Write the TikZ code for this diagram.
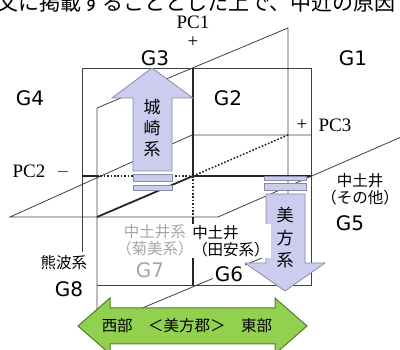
\documentclass[tikz,border=0pt]{standalone}
\usepackage{fontspec}
\newfontfamily\jp{Noto Sans CJK JP}
\newfontfamily\gf{DejaVu Sans}
\newfontfamily\pcf{Liberation Serif}
\definecolor{lav}{HTML}{CCCCEE}
\definecolor{lavb}{HTML}{8A8AA6}
\definecolor{grn}{HTML}{92D050}
\definecolor{grnb}{HTML}{4F7F2F}
\definecolor{lgray}{HTML}{A6A6A6}
\begin{document}
\begin{tikzpicture}[x=1pt,y=-1pt,
  thinln/.style={draw=black!75, line width=0.8pt},
  boldln/.style={draw=black!85, line width=1.8pt},
  dotln/.style={draw=black!85, line width=1.6pt, dash pattern=on 1.6pt off 1.8pt},
  glbl/.style={font=\gf\fontsize{20}{24}\selectfont, inner sep=2pt, fill=white},
  jlbl/.style={font=\jp\fontsize{15.5}{17.5}\selectfont, inner sep=1pt},
  pcl/.style={font=\pcf\fontsize{19}{22}\selectfont, inner sep=1pt},
  lavshape/.style={fill=lav, draw=lavb, line width=0.8pt}
]
\useasboundingbox (0,0) rectangle (400,350);

% cut-off text line at the top
\node[anchor=base west, font=\jp\fontsize{21}{24}\selectfont, inner sep=0] (toptext) at (-3,11) {文に掲載することとした上で、中近の原因};

% coordinates of the planes
\coordinate (rA) at (82,252);
\coordinate (rB) at (82,68);
\coordinate (rC) at (311,68);
\coordinate (rD) at (311,285);
\coordinate (rE) at (97,285);
\coordinate (vA) at (97,327);
\coordinate (vB) at (97,108);
\coordinate (vC) at (288,28);
\coordinate (vD) at (288,247);
\coordinate (hA) at (10,217);
\coordinate (hB) at (218,217);
\coordinate (hC) at (408,134);
\coordinate (hD) at (192,135);
\coordinate (hE) at (311,135);
\coordinate (o) at (193,176);

% thin plane outlines
\draw[thinln] (rA) -- (rB) -- (rC) -- (rD) -- (rE);
\draw[thinln] (vA) -- (vB) -- (vC) -- (vD) -- cycle;
\draw[thinln] (hC) -- (hB) -- (hA) -- (hD) -- (hE);

% axes
\draw[boldln] (193,68) -- (o);
\draw[dotln] (o) -- (193,217);
\draw[boldln] (193,217) -- (193,285);
\draw[boldln] (82,176) -- (97,176);
\draw[dotln] (97,176) -- (o);
\draw[boldln] (o) -- (311,176);
\draw[boldln] (97,217) -- (o);
\draw[dotln] (o) -- (288,135);

% Kinosaki arrow (up)
\draw[lavshape] (133,171) -- (133,98) -- (112,98) -- (152,68) -- (193,98) -- (172,98) -- (172,171) -- cycle;
\draw[lavshape] (133,174) rectangle (172,181);
\draw[lavshape] (133,185) rectangle (172,190);
\node[font=\jp\fontsize{17}{21}\selectfont, align=center, inner sep=0] (kino) at (152,128) {城\\崎\\系};

% Mikata arrow (down)
\draw[lavshape] (264,176) rectangle (306,180);
\draw[lavshape] (264,183) rectangle (306,190);
\draw[lavshape] (266,194) -- (305,194) -- (305,263) -- (325,263) -- (285,291) -- (245,263) -- (266,263) -- cycle;
\node[font=\jp\fontsize{17}{22.5}\selectfont, align=center, inner sep=0] (mika) at (285,238) {美\\方\\系};

% green double arrow
\draw[fill=grn, draw=grnb, line width=1pt] (78,326) -- (110,298) -- (110,308) -- (275,308) -- (275,298) -- (307,326) -- (275,354) -- (275,344) -- (110,344) -- (110,354) -- cycle;
\node[font=\jp\fontsize{15.5}{18}\selectfont, inner sep=0] (gun) at (187,326) {西部　＜美方郡＞　東部};

% labels
\node[glbl] (g1) at (353,58) {G1};
\node[glbl] (g2) at (228,98) {G2};
\node[glbl] (g3) at (155,58) {G3};
\node[glbl] (g4) at (30,98) {G4};
\node[glbl] (g5) at (350,223) {G5};
\node[glbl] (g6) at (229,274) {G6};
\node[glbl, text=lgray] (g7) at (150,270) {G7};
\node[glbl] (g8) at (69,289) {G8};
\node[jlbl, fill=white] (kuma) at (64,263) {熊波系};
\node[jlbl, text=lgray, align=center] (kiku) at (155,240) {中土井系\\（菊美系）};
\node[jlbl, align=left, fill=white] (taya) at (231,241) {中土井\\（田安系）};
\node[jlbl, align=center] (sono) at (360,189) {中土井\\（その他）};

\node[pcl] (pc1) at (193,22) {PC1};
\node[pcl] (pc1p) at (193,42) {+};
\node[pcl] (pc2) at (29,171) {PC2};
\node[pcl] (pc2m) at (63,172) {$-$};
\node[pcl] (pc3) at (335,125) {PC3};
\node[pcl] (pc3p) at (302,125) {+};
\end{tikzpicture}
\end{document}
